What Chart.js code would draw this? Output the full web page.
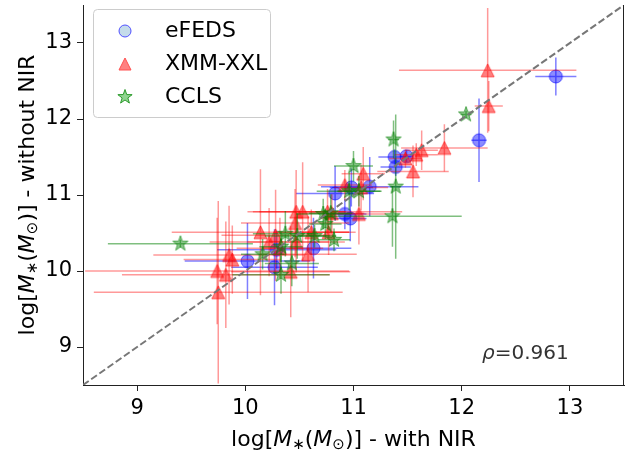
<!DOCTYPE html>
<html>
<head>
<meta charset="utf-8">
<script src="https://cdn.jsdelivr.net/npm/chart.js@4"></script>
<style>
html, body { margin: 0; padding: 0; background: #fff; }
</style>
</head>
<body>
<canvas id="massChart" width="643" height="454"></canvas>
<script>
// tick labels
const xTicks = [9, 10, 11, 12, 13];
const yTicks = [9, 10, 11, 12, 13];

// eFEDS
const efedsX    = [12.87, 12.16, 11.38, 11.49, 11.39, 11.15, 10.98, 10.83, 10.92, 10.97, 10.63, 10.29, 10.02, 10.27];
const efedsY    = [12.56, 11.72, 11.50, 11.51, 11.37, 11.11, 11.10, 11.02, 10.75, 10.69, 10.30, 10.28, 10.13, 10.05];
const efedsXErr = [0.19, 0.07, 0.15, 0.06, 0.14, 0.45, 0.20, 0.36, 0.20, 0.15, 0.35, 0.55, 0.58, 0.40];
const efedsYErr = [0.25, 0.55, 0.10, 0.08, 0.12, 0.39, 0.25, 0.36, 0.20, 0.30, 0.40, 0.25, 0.50, 0.50];

// XMM-XXL
const xxlX    = [12.24, 12.25, 11.84, 11.63, 11.58, 11.48, 11.55, 11.09, 10.92, 11.07, 10.76, 10.80, 11.05, 10.47, 10.53,
                 10.46, 10.61, 10.14, 10.28, 10.22, 10.47, 10.77, 10.58, 9.85, 9.88, 9.74, 9.82, 9.75, 10.42, 10.32];
const xxlY    = [12.64, 12.17, 11.62, 11.59, 11.53, 11.48, 11.31, 11.28, 11.13, 11.10, 10.78, 10.76, 10.75, 10.78, 10.78,
                 10.63, 10.51, 10.51, 10.47, 10.38, 10.38, 10.51, 10.22, 10.21, 10.15, 10.00, 9.95, 9.72, 9.99, 10.30];
const xxlXErr = [0.82, 0.13, 0.40, 0.15, 0.20, 0.15, 0.33, 0.20, 0.25, 0.25, 0.69, 0.30, 0.25, 0.45, 0.40,
                 0.50, 0.35, 0.82, 0.50, 0.55, 0.45, 0.25, 0.45, 0.70, 0.45, 1.22, 0.96, 1.15, 0.55, 0.40];
const xxlYErr = [0.82, 0.33, 0.31, 0.26, 0.15, 0.12, 0.34, 0.35, 0.20, 0.30, 0.30, 0.25, 0.40, 0.55, 0.65,
                 0.45, 0.30, 0.83, 0.60, 0.45, 0.40, 0.30, 0.50, 0.65, 0.45, 0.70, 0.70, 1.20, 0.60, 0.40];

// CCLS
const cclsX    = [12.04, 11.37, 11.00, 11.39, 11.36, 10.96, 11.05, 10.72, 10.79, 10.74, 10.82, 10.64, 10.48, 10.37, 10.33, 10.16, 9.40, 10.43, 10.33];
const cclsY    = [12.06, 11.73, 11.38, 11.11, 10.72, 11.05, 11.05, 10.75, 10.76, 10.62, 10.41, 10.46, 10.46, 10.49, 10.32, 10.22, 10.36, 10.10, 9.95];
const cclsXErr = [0.05, 0.05, 0.18, 0.05, 0.64, 0.30, 0.20, 0.25, 0.20, 0.15, 0.15, 0.20, 0.30, 0.30, 0.20, 0.20, 0.67, 0.25, 0.45];
const cclsYErr = [0.05, 0.25, 0.20, 0.95, 0.40, 0.25, 0.20, 0.20, 0.25, 0.20, 0.15, 0.15, 0.30, 0.30, 0.20, 0.20, 0.05, 0.30, 0.25];

const rho = '0.961';

const FONT = '"DejaVu Sans", sans-serif';

function toPoints(xs, ys) {
    return xs.map((x, i) => ({ x: x, y: ys[i] }));
}

function shapePath(g, kind, r) {
    g.beginPath();
    if (kind === 'circle') {
        g.arc(0, 0, r, 0, Math.PI * 2);
    } else if (kind === 'triangle') {
        g.moveTo(0, -r);
        g.lineTo(r, r);
        g.lineTo(-r, r);
        g.closePath();
    } else {
        const inner = r * 0.4;
        for (let k = 0; k < 10; k++) {
            const rr = k % 2 === 0 ? r : inner;
            const a = -Math.PI / 2 + k * Math.PI / 5;
            const px = rr * Math.cos(a), py = rr * Math.sin(a);
            if (k === 0) g.moveTo(px, py); else g.lineTo(px, py);
        }
        g.closePath();
    }
}

function marker(kind, r, fill, stroke) {
    const c = document.createElement('canvas');
    const s = Math.ceil(2 * r + 4);
    c.width = s;
    c.height = s;
    const g = c.getContext('2d');
    g.translate(s / 2, s / 2);
    shapePath(g, kind, r);
    g.fillStyle = fill;
    g.fill();
    g.strokeStyle = stroke;
    g.lineWidth = 1;
    g.stroke();
    return c;
}

const circleImg = marker('circle', 6.5, 'rgba(0,0,255,0.45)', 'rgba(0,0,255,0.6)');
const triImg = marker('triangle', 6.5, 'rgba(255,0,0,0.5)', 'rgba(255,0,0,0.55)');
const starImg = marker('star', 8, 'rgba(0,128,0,0.45)', 'rgba(0,128,0,0.6)');

// error bars drawn right before each dataset's markers
const errorBars = {
    id: 'errorBars',
    beforeDatasetDraw(chart, args) {
        const ds = chart.data.datasets[args.index];
        if (!ds.xErr) return;
        const xs = chart.scales.x, ys = chart.scales.y, a = chart.chartArea;
        const ctx = chart.ctx;
        ctx.save();
        ctx.beginPath();
        ctx.rect(a.left, a.top, a.right - a.left, a.bottom - a.top);
        ctx.clip();
        ctx.strokeStyle = ds.errColor;
        ctx.lineWidth = 1.5;
        ds.data.forEach((p, i) => {
            const px = xs.getPixelForValue(p.x), py = ys.getPixelForValue(p.y);
            ctx.beginPath();
            ctx.moveTo(xs.getPixelForValue(p.x - ds.xErr[i]), py);
            ctx.lineTo(xs.getPixelForValue(p.x + ds.xErr[i]), py);
            ctx.moveTo(px, ys.getPixelForValue(p.y - ds.yErr[i]));
            ctx.lineTo(px, ys.getPixelForValue(p.y + ds.yErr[i]));
            ctx.stroke();
        });
        ctx.restore();
    }
};

function mathText(ctx, parts, cx, cy, rotate) {
    let total = 0;
    parts.forEach(p => { ctx.font = p.f; p.w = ctx.measureText(p.t).width; total += p.w; });
    ctx.save();
    ctx.translate(cx, cy);
    if (rotate) ctx.rotate(-Math.PI / 2);
    ctx.textBaseline = 'middle';
    ctx.textAlign = 'left';
    let x = -total / 2;
    parts.forEach(p => {
        ctx.font = p.f;
        ctx.fillText(p.t, x, p.dy || 0);
        x += p.w;
    });
    ctx.restore();
}

const N = '22px ' + FONT, I = 'oblique 22px ' + FONT, S = '15px ' + FONT;
function axisLabel(tail) {
    return [
        { t: 'log[', f: N }, { t: 'M', f: I }, { t: '\u2217', f: S, dy: 5 },
        { t: '(', f: N }, { t: 'M', f: I }, { t: '\u2299', f: S, dy: 5 },
        { t: ')] - ' + tail, f: N }
    ];
}

const decorations = {
    id: 'decorations',
    afterDraw(chart) {
        const ctx = chart.ctx, a = chart.chartArea;
        // right spine (left and bottom come from the axes)
        ctx.save();
        ctx.strokeStyle = '#222';
        ctx.lineWidth = 1;
        ctx.beginPath();
        ctx.moveTo(a.right - 0.5, a.top);
        ctx.lineTo(a.right - 0.5, a.bottom);
        ctx.stroke();
        ctx.restore();

        // axis titles
        ctx.fillStyle = '#000';
        mathText(ctx, axisLabel('with NIR'), (a.left + a.right) / 2, 440, false);
        mathText(ctx, axisLabel('without NIR'), 28, (a.top + a.bottom) / 2, true);

        // rho annotation
        ctx.save();
        ctx.fillStyle = '#333';
        ctx.textBaseline = 'middle';
        ctx.font = 'oblique 20px ' + FONT;
        ctx.fillText('\u03c1', 482, 354);
        const w = ctx.measureText('\u03c1').width;
        ctx.font = '20px ' + FONT;
        ctx.fillText('=' + rho, 482 + w, 354);
        ctx.restore();

        // legend
        ctx.save();
        const bx = 93.5, by = 9.5, bw = 177, bh = 108, rr = 4;
        ctx.beginPath();
        ctx.moveTo(bx + rr, by);
        ctx.arcTo(bx + bw, by, bx + bw, by + bh, rr);
        ctx.arcTo(bx + bw, by + bh, bx, by + bh, rr);
        ctx.arcTo(bx, by + bh, bx, by, rr);
        ctx.arcTo(bx, by, bx + bw, by, rr);
        ctx.closePath();
        ctx.fillStyle = 'rgba(255,255,255,0.8)';
        ctx.fill();
        ctx.strokeStyle = '#cccccc';
        ctx.lineWidth = 1;
        ctx.stroke();
        const items = [
            ['eFEDS', 'circle', '#c4dcea', '#5050ff', 6],
            ['XMM-XXL', 'triangle', '#ff8080', '#ff5050', 6],
            ['CCLS', 'star', '#8fd48f', '#2a9a2a', 7.5]
        ];
        items.forEach((it, k) => {
            const cy = 31 + k * 33;
            ctx.save();
            ctx.translate(125, cy);
            shapePath(ctx, it[1], it[4]);
            ctx.fillStyle = it[2];
            ctx.fill();
            ctx.strokeStyle = it[3];
            ctx.lineWidth = 1;
            ctx.stroke();
            ctx.restore();
            ctx.fillStyle = '#000';
            ctx.font = '22px ' + FONT;
            ctx.textBaseline = 'middle';
            ctx.fillText(it[0], 165, cy);
        });
        ctx.restore();
    }
};

const axisCommon = {
    type: 'linear',
    min: 8.5,
    max: 13.5,
    grid: { drawOnChartArea: false, drawTicks: true, tickLength: 6, color: '#222', lineWidth: 1 },
    border: { display: true, color: '#222', width: 1 },
    ticks: { font: { family: FONT, size: 21 }, color: '#000', padding: 5, maxRotation: 0 }
};

new Chart(document.getElementById('massChart'), {
    type: 'scatter',
    data: {
        datasets: [
            {
                label: '1:1',
                type: 'line',
                data: [{ x: 8.5, y: 8.5 }, { x: 13.5, y: 13.5 }],
                borderColor: '#777777',
                borderWidth: 2,
                borderDash: [7, 3],
                pointRadius: 0,
                order: 0
            },
            {
                label: 'CCLS',
                data: toPoints(cclsX, cclsY),
                xErr: cclsXErr,
                yErr: cclsYErr,
                errColor: 'rgba(0,128,0,0.5)',
                pointStyle: starImg,
                order: 1
            },
            {
                label: 'XMM-XXL',
                data: toPoints(xxlX, xxlY),
                xErr: xxlXErr,
                yErr: xxlYErr,
                errColor: 'rgba(255,0,0,0.4)',
                pointStyle: triImg,
                order: 2
            },
            {
                label: 'eFEDS',
                data: toPoints(efedsX, efedsY),
                xErr: efedsXErr,
                yErr: efedsYErr,
                errColor: 'rgba(0,0,255,0.5)',
                pointStyle: circleImg,
                order: 3
            }
        ]
    },
    options: {
        responsive: false,
        animation: false,
        devicePixelRatio: 1,
        layout: { padding: { left: 0, right: 19, top: 0, bottom: 0 } },
        plugins: { legend: { display: false }, tooltip: { enabled: false } },
        scales: {
            x: Object.assign({}, axisCommon, {
                afterBuildTicks: s => { s.ticks = xTicks.map(v => ({ value: v })); },
                afterFit: s => { s.height = 69; s.paddingLeft = 0; s.paddingRight = 0; }
            }),
            y: Object.assign({}, axisCommon, {
                afterBuildTicks: s => { s.ticks = yTicks.map(v => ({ value: v })); },
                afterFit: s => { s.width = 83; s.paddingTop = 0; s.paddingBottom = 0; }
            })
        }
    },
    plugins: [errorBars, decorations]
});
</script>
</body>
</html>
